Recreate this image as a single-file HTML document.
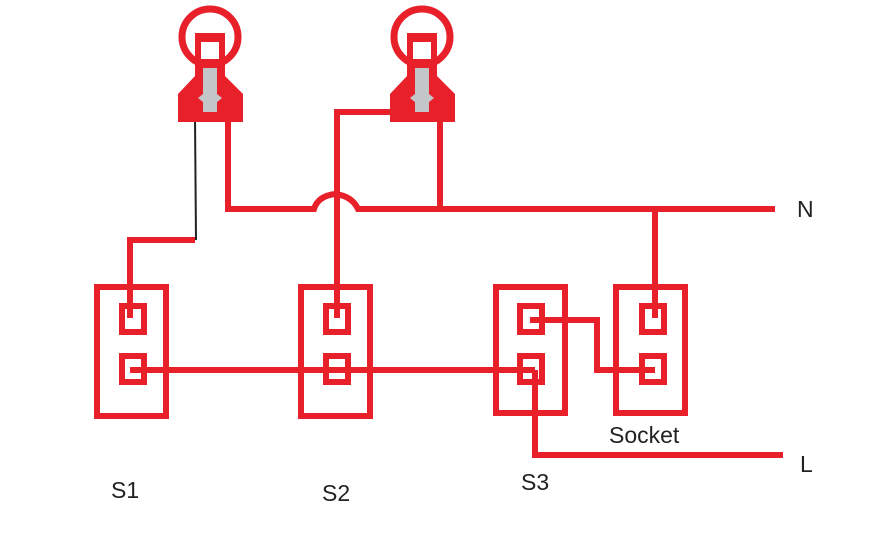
<!DOCTYPE html>
<html><head><style>
body{margin:0;background:#fff;}
svg{display:block;}
text{font-family:"Liberation Sans",sans-serif;font-size:23px;fill:#222;}
</style></head><body>
<svg width="885" height="543" viewBox="0 0 885 543">
<g fill="none" stroke="#e8202a" stroke-width="6">
<rect x="97" y="287" width="69" height="129"/>
<rect x="301" y="287" width="69" height="129"/>
<rect x="496" y="287" width="69" height="126"/>
<rect x="616" y="287" width="69" height="126"/>
<rect x="122" y="306" width="22" height="26"/><rect x="122" y="356" width="22" height="26"/>
<rect x="326" y="306" width="22" height="26"/><rect x="326" y="356" width="22" height="26"/>
<rect x="520" y="306" width="22" height="26"/><rect x="520" y="356" width="22" height="26"/>
<rect x="642" y="306" width="22" height="26"/><rect x="642" y="356" width="22" height="26"/>
<polyline points="130,370 535,370"/>
<path d="M228,118 V209 H314 Q318,196 335,194 Q352,196 358,209 H775"/>
<polyline points="440,118 440,209"/>
<polyline points="337,318 337,112 398,112"/>
<polyline points="655,209 655,318"/>
<polyline points="130,318 130,240 195,240"/>
<polyline points="530,320 597,320 597,370 655,370"/>
<polyline points="535,370 535,455 783,455"/>
<circle cx="210" cy="37" r="28" stroke-width="7"/>
<circle cx="422" cy="37" r="28" stroke-width="7"/>
<rect x="198" y="38" width="24" height="24" stroke-width="6"/>
<rect x="410" y="38" width="24" height="24" stroke-width="6"/>
</g>
<line x1="195" y1="118" x2="196" y2="240" stroke="#222" stroke-width="2"/>
<g fill="#e8202a">
<rect x="195" y="33" width="30" height="9"/>
<rect x="407" y="33" width="30" height="9"/>
<path d="M195,62 h30 v14 l18,18 v28 h-65 v-28 l17,-18z"/>
<path d="M407,62 h30 v14 l18,18 v28 h-65 v-28 l17,-18z"/>
</g>
<g fill="#c3c6c8">
<path d="M203,68 h14 v26 l5,4 l-5,4 v10 h-14 v-10 l-5,-4 l5,-4z"/>
<path d="M415,68 h14 v26 l5,4 l-5,4 v10 h-14 v-10 l-5,-4 l5,-4z"/>
</g>
<text x="797" y="217">N</text>
<text x="800" y="472">L</text>
<text x="111" y="498">S1</text>
<text x="322" y="501">S2</text>
<text x="521" y="490">S3</text>
<text x="609" y="443">Socket</text>
</svg>
</body></html>
